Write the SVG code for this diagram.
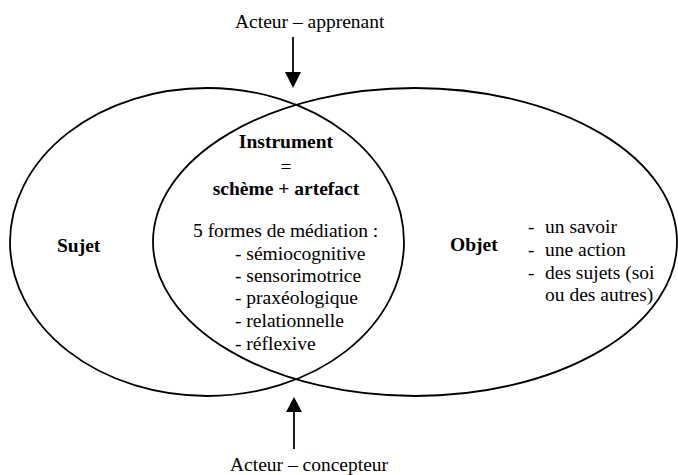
<svg xmlns="http://www.w3.org/2000/svg" width="678" height="475" viewBox="0 0 678 475">
<style>
text{font-family:"Liberation Serif","Times New Roman",serif;font-size:19.5px;fill:#000}
.b{font-weight:bold}
.c{text-anchor:middle}
.sh{fill:none;stroke:#000;stroke-width:1.8}
.ar{stroke:#000;stroke-width:1.8}
</style>
<rect width="678" height="475" fill="#fff"/>
<g id="sujet">
<ellipse class="sh" cx="207" cy="242" rx="197" ry="154"/>
<text class="b" x="57" y="252">Sujet</text>
</g>
<g id="objet">
<ellipse class="sh" cx="415" cy="242" rx="262" ry="154"/>
<text class="b" x="450" y="251">Objet</text>
<text x="528" y="233">-</text><text x="545" y="233">un savoir</text>
<text x="528" y="256">-</text><text x="545" y="256">une action</text>
<text x="528" y="279">-</text><text x="545" y="279">des sujets (soi</text>
<text x="545" y="301">ou des autres)</text>
</g>
<g id="instrument">
<text class="b c" x="286" y="148">Instrument</text>
<text class="c" x="286" y="173">=</text>
<text class="b c" x="286" y="195">schème + artefact</text>
<text x="193" y="237">5 formes de médiation :</text>
<text x="235" y="260">- sémiocognitive</text>
<text x="235" y="282">- sensorimotrice</text>
<text x="235" y="304">- praxéologique</text>
<text x="235" y="327">- relationnelle</text>
<text x="235" y="350">- réflexive</text>
</g>
<g id="apprenant">
<text x="235" y="28">Acteur – apprenant</text>
</g>
<g id="concepteur">
<text x="230" y="471">Acteur – concepteur</text>
</g>
<g id="connectors">
<line class="ar" x1="293" y1="37" x2="293" y2="73"/>
<polygon points="285,72 301,72 293,88"/>
<line class="ar" x1="294" y1="411" x2="294" y2="449"/>
<polygon points="286,412 302,412 294,397"/>
</g>
</svg>
